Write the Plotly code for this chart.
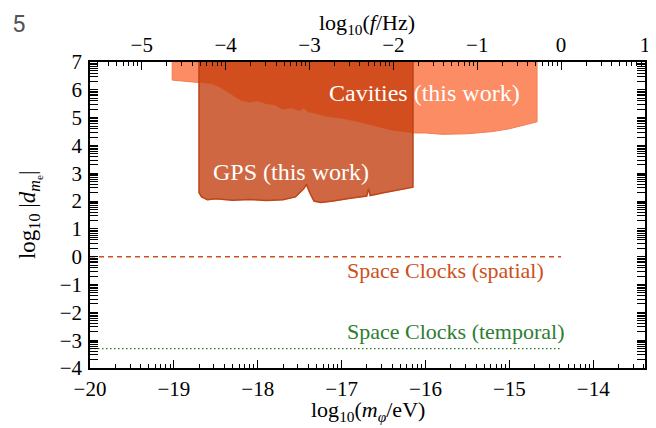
import numpy as np
import plotly.graph_objects as go

# ---------------- data ----------------
X_RANGE = [-20.0, -13.383]
Y_RANGE = [-4.0, 7.0]
Y_TOP = 7.0
F_OFFSET = float(np.log10(2.417989e14))  # log10(f/Hz) = log10(m/eV) + offset

# Cavities (this work): lower boundary of excluded region
cav_x = [-19.02, -18.70, -18.55, -18.45, -18.30, -18.20, -18.10, -18.00, -17.90, -17.80,
         -17.70, -17.60, -17.50, -17.45, -17.40, -17.30, -17.20, -17.00, -16.80, -16.60,
         -16.40, -16.15, -16.00, -15.80, -15.50, -15.20, -15.00, -14.80, -14.67]
cav_y = [6.35, 6.27, 6.22, 6.10, 5.80, 5.62, 5.55, 5.60, 5.50, 5.45,
         5.30, 5.35, 5.25, 5.35, 5.20, 5.15, 5.05, 4.98, 4.85, 4.70,
         4.55, 4.45, 4.45, 4.40, 4.42, 4.50, 4.60, 4.75, 4.85]

# GPS (this work): lower boundary of excluded region
gps_x = [-18.70, -18.67, -18.60, -18.50, -18.30, -18.10, -17.90, -17.70, -17.55, -17.45,
         -17.42, -17.38, -17.33, -17.25, -17.10, -16.90, -16.70, -16.68, -16.66, -16.50,
         -16.30, -16.15]
gps_y = [2.30, 2.15, 2.05, 2.08, 2.03, 2.06, 2.02, 2.05, 2.15, 2.45,
         2.60, 2.30, 2.00, 1.95, 2.00, 2.10, 2.18, 2.45, 2.20, 2.30,
         2.40, 2.50]

# Space clocks projections
clocks_x = [-20.0, -F_OFFSET]
clocks_spatial = [0.0, 0.0]
clocks_temporal = [-3.3, -3.3]

x_major = list(range(-20, -13))
y_major = list(range(-4, 8))
f_major = list(range(-5, 2))

# ---------------- styles ----------------
C_CAV = "#FB8C64"
C_CAV_EDGE = "#F47A50"
C_OVER = "#D24E1E"
C_GPS = "#CF6842"
C_GPS_EDGE = "#BF4418"
C_SPATIAL = "#CC5020"
C_TEMPORAL = "#2E7D32"
SERIF = "Liberation Serif, DejaVu Serif, serif"


def log_minor(lo, hi):
    vals = []
    for n in range(int(np.floor(lo)) - 1, int(np.ceil(hi)) + 1):
        for k in range(2, 10):
            v = n + np.log10(k)
            if lo <= v <= hi:
                vals.append(v)
    return vals


fig = go.Figure()

# Cavities region (light)
fig.add_trace(go.Scatter(
    x=cav_x + [cav_x[-1], cav_x[0], cav_x[0]],
    y=cav_y + [Y_TOP, Y_TOP, cav_y[0]],
    fill="toself", fillcolor=C_CAV, mode="lines",
    line=dict(color=C_CAV_EDGE, width=1), hoverinfo="skip", showlegend=False))

# GPS region (medium)
fig.add_trace(go.Scatter(
    x=gps_x + [gps_x[-1], gps_x[0], gps_x[0]],
    y=gps_y + [Y_TOP, Y_TOP, gps_y[0]],
    fill="toself", fillcolor=C_GPS, mode="lines",
    line=dict(color=C_GPS, width=0.5), hoverinfo="skip", showlegend=False))

# Overlap (cavities boundary inside GPS range) - dark
ov_x = [x for x in cav_x if gps_x[0] <= x <= gps_x[-1]]
ov_y = [y for x, y in zip(cav_x, cav_y) if gps_x[0] <= x <= gps_x[-1]]
fig.add_trace(go.Scatter(
    x=ov_x + [ov_x[-1], ov_x[0], ov_x[0]],
    y=ov_y + [Y_TOP, Y_TOP, ov_y[0]],
    fill="toself", fillcolor=C_OVER, mode="lines",
    line=dict(color=C_OVER, width=0.5), hoverinfo="skip", showlegend=False))

# GPS edge (left side and bottom)
fig.add_trace(go.Scatter(
    x=[gps_x[0]] + gps_x + [gps_x[-1]],
    y=[Y_TOP] + gps_y + [Y_TOP],
    mode="lines", line=dict(color=C_GPS_EDGE, width=1.5),
    hoverinfo="skip", showlegend=False))

# Space clocks lines
fig.add_trace(go.Scatter(
    x=clocks_x, y=clocks_spatial, mode="lines",
    line=dict(color=C_SPATIAL, width=1.3, dash="5px,4px"),
    hoverinfo="skip", showlegend=False))
fig.add_trace(go.Scatter(
    x=clocks_x, y=clocks_temporal, mode="lines",
    line=dict(color=C_TEMPORAL, width=1.3, dash="1.5px,2.5px"),
    hoverinfo="skip", showlegend=False))

# dummy trace to activate the top axis
fig.add_trace(go.Scatter(
    x=f_major, y=[None] * len(f_major), xaxis="x2", mode="lines",
    hoverinfo="skip", showlegend=False))

# ---------------- annotations ----------------
ann = [
    dict(x=-16.01, y=5.89, text="Cavities (this work)", color="white", size=24),
    dict(x=-17.60, y=3.05, text="GPS (this work)", color="white", size=24),
    dict(x=-15.76, y=-0.48, text="Space Clocks (spatial)", color=C_SPATIAL, size=22),
    dict(x=-15.64, y=-2.67, text="Space Clocks (temporal)", color=C_TEMPORAL, size=22),
]
for a in ann:
    fig.add_annotation(x=a["x"], y=a["y"], xref="x", yref="y", text=a["text"],
                       showarrow=False, xanchor="center", yanchor="middle",
                       font=dict(family=SERIF, size=a["size"], color=a["color"]))

# axis titles
titles = [
    dict(x=0.499, y=1.176, text="log<sub>10</sub>(<i>f</i>/Hz)", angle=0, size=22, ya="top"),
    dict(x=0.50, y=-0.193, text="log<sub>10</sub>(<i>m</i><sub><i>φ</i></sub>/eV)", angle=0, size=22, ya="bottom"),
    dict(x=-0.108, y=0.50, text="log<sub>10</sub> |<i>d</i><sub><i>m</i><sub>e</sub></sub>|", angle=-90, size=23, ya="middle"),
]
for t in titles:
    fig.add_annotation(x=t["x"], y=t["y"], xref="paper", yref="paper", text=t["text"],
                       showarrow=False, xanchor="center", yanchor=t["ya"],
                       textangle=t["angle"],
                       font=dict(family=SERIF, size=t["size"], color="black"))

fig.add_annotation(x=-0.145, y=1.176, xref="paper", yref="paper", text="5",
                   showarrow=False, xanchor="left", yanchor="top",
                   font=dict(family="Roboto, sans-serif", size=24, color="#555555"))

f_range = [X_RANGE[0] + F_OFFSET, X_RANGE[1] + F_OFFSET]

axis_common = dict(
    showgrid=False, zeroline=False, ticks="inside", ticklen=8, tickwidth=1.2,
    tickcolor="black", showline=True, linecolor="black", linewidth=1.5,
    tickfont=dict(family=SERIF, size=21, color="black"), automargin=False,
)

# page body has an 8px margin: figure is 648x420, placed at (8, 8)
fig.update_layout(
    width=648, height=420,
    margin=dict(l=82, r=11, t=54, b=60),
    paper_bgcolor="white", plot_bgcolor="white",
    font=dict(family=SERIF, color="black"),
    xaxis=dict(
        range=X_RANGE, tickmode="array", tickvals=x_major,
        mirror=True, ticklabelstandoff=1,
        minor=dict(tickmode="array", tickvals=log_minor(*X_RANGE), ticklen=4,
                   tickcolor="black", tickwidth=1, ticks="inside"),
        **axis_common),
    xaxis2=dict(
        range=f_range, overlaying="x", side="top", anchor="y",
        tickmode="array", tickvals=f_major, ticklabelstandoff=0,
        minor=dict(tickmode="array", tickvals=log_minor(*f_range), ticklen=4,
                   tickcolor="black", tickwidth=1, ticks="inside"),
        **axis_common),
    yaxis=dict(
        range=Y_RANGE, tickmode="array", tickvals=y_major,
        mirror="allticks", ticklabelstandoff=2,
        minor=dict(tickmode="array", tickvals=log_minor(*Y_RANGE), ticklen=4,
                   tickcolor="black", tickwidth=1, ticks="inside"),
        **axis_common),
)

fig.write_html("out.html")
